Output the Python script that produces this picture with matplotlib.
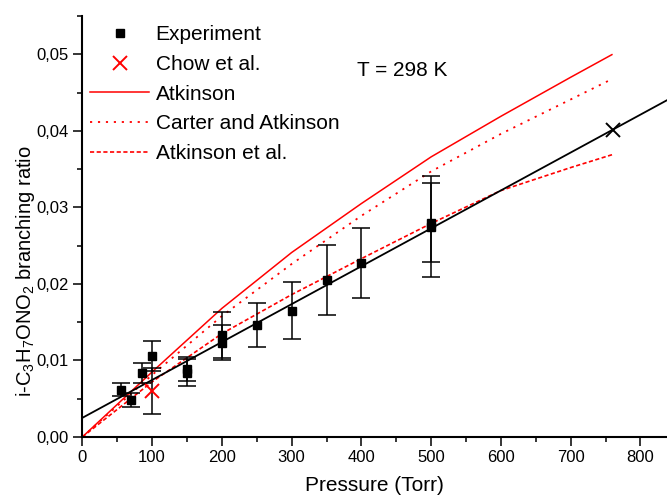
import matplotlib
matplotlib.use("Agg")
import matplotlib.pyplot as plt
from matplotlib.lines import Line2D
from matplotlib.ticker import MultipleLocator

# ---------------- data ----------------
exp_p = [55, 70, 85, 100, 150, 150, 200, 200, 250, 300, 350, 400, 500, 500]
exp_r = [0.0062, 0.0048, 0.0084, 0.0106, 0.0089, 0.0084, 0.0133, 0.0123,
         0.0146, 0.0165, 0.0205, 0.0227, 0.0280, 0.0275]
exp_err = [0.0008, 0.0009, 0.0013, 0.0020, 0.0016, 0.0018, 0.0030, 0.0023,
           0.0029, 0.0037, 0.0046, 0.0046, 0.0052, 0.0066]

chow_p = [100]
chow_r = [0.0060]
chow_err = [0.0030]

atm_p = [760]
atm_r = [0.0401]

fit_p = [0, 838]
fit_r = [0.0025, 0.0440]

model_p = [0, 100, 200, 300, 400, 500, 600, 700, 760]
atkinson_r = [0, 0.0085, 0.0168, 0.0241, 0.0305, 0.0366, 0.0419, 0.0470, 0.0500]
carter_r = [0, 0.0081, 0.0158, 0.0226, 0.0289, 0.0347, 0.0396, 0.0441, 0.0468]
atkinson_al_r = [0, 0.0072, 0.0135, 0.0186, 0.0233, 0.0279, 0.0322, 0.0352, 0.0369]

xticks = [0, 100, 200, 300, 400, 500, 600, 700, 800]
yticks = [0.00, 0.01, 0.02, 0.03, 0.04, 0.05]
ytick_labels = ['0,00', '0,01', '0,02', '0,03', '0,04', '0,05']

# ---------------- style ----------------
plt.rcParams['font.family'] = ['Liberation Sans', 'DejaVu Sans']
plt.rcParams['mathtext.fontset'] = 'custom'
plt.rcParams['mathtext.rm'] = 'Liberation Sans'
plt.rcParams['mathtext.it'] = 'Liberation Sans'
plt.rcParams['mathtext.default'] = 'rm'

W, H = 667, 498
fig = plt.figure(figsize=(W / 100, H / 100), dpi=100)
x0, y0, x1, y1 = 82.3, 437, 667, 16
ax = fig.add_axes([x0 / W, (H - y0) / H, (x1 - x0) / W, (y0 - y1) / H])

red = '#ff0000'
ax.plot(model_p, atkinson_r, color=red, lw=1.1, solid_capstyle='butt')
ax.plot(model_p, carter_r, color=red, lw=1.3, linestyle=(0, (1.2, 3.2)))
ax.plot(model_p, atkinson_al_r, color=red, lw=1.2, linestyle=(0, (2.5, 1.5)))
ax.plot(fit_p, fit_r, color='black', lw=1.3)

ax.errorbar(exp_p, exp_r, yerr=exp_err, fmt='s', color='black', ms=5.5,
            ecolor='black', elinewidth=1.1, capsize=6.5, capthick=1.1)
ax.errorbar(chow_p, chow_r, yerr=chow_err, fmt='none', ecolor='black',
            elinewidth=1.1, capsize=6.5, capthick=1.1)
ax.plot(chow_p, chow_r, linestyle='none', marker='x', color=red, ms=10, mew=1.4)
ax.plot(atm_p, atm_r, linestyle='none', marker='x', color='black', ms=10, mew=1.4)

ax.set_xlim(0, 838)
ax.set_ylim(0, 0.055)
ax.set_xticks(xticks)
ax.set_xticklabels([str(t) for t in xticks])
ax.set_yticks(yticks)
ax.set_yticklabels(ytick_labels)
ax.xaxis.set_minor_locator(MultipleLocator(50))
ax.yaxis.set_minor_locator(MultipleLocator(0.005))

for s in ['top', 'right']:
    ax.spines[s].set_visible(False)
for s in ['left', 'bottom']:
    ax.spines[s].set_linewidth(1.5)

tick_family = ['Liberation Sans Narrow', 'Liberation Sans', 'DejaVu Sans']
ax.tick_params(which='major', direction='out', length=6.5, width=1.1, pad=3)
ax.tick_params(which='minor', direction='out', length=3.8, width=1.1)
for lab in ax.get_xticklabels() + ax.get_yticklabels():
    lab.set_fontfamily(tick_family)
    lab.set_fontsize(12)

ax.set_xlabel('Pressure (Torr)', fontsize=15, labelpad=8)
ax.set_ylabel(r'i-C$_3$H$_7$ONO$_2$ branching ratio', fontsize=14.5)
ax.yaxis.set_label_coords((37 - x0) / (x1 - x0), (y0 - 271) / (y0 - y1))

ax.text(459, 0.0479, 'T = 298 K', fontsize=15, ha='center', va='center')

handles = [
    Line2D([], [], linestyle='none', marker='s', color='black', ms=5.5),
    Line2D([], [], linestyle='none', marker='x', color=red, ms=10, mew=1.4),
    Line2D([], [], color=red, lw=1.1),
    Line2D([], [], color=red, lw=1.3, linestyle=(0, (1.2, 3.2))),
    Line2D([], [], color=red, lw=1.2, linestyle=(0, (2.5, 1.5))),
]
labels = ['Experiment', 'Chow et al.', 'Atkinson', 'Carter and Atkinson', 'Atkinson et al.']
leg = ax.legend(handles, labels, loc='upper left', frameon=False, fontsize=15,
                bbox_to_anchor=(90 / W, 1 - 25 / H), bbox_transform=fig.transFigure,
                borderpad=0, borderaxespad=0, handlelength=2.85, handletextpad=0.3,
                labelspacing=0.52)

fig.savefig('out.png', dpi=100)
